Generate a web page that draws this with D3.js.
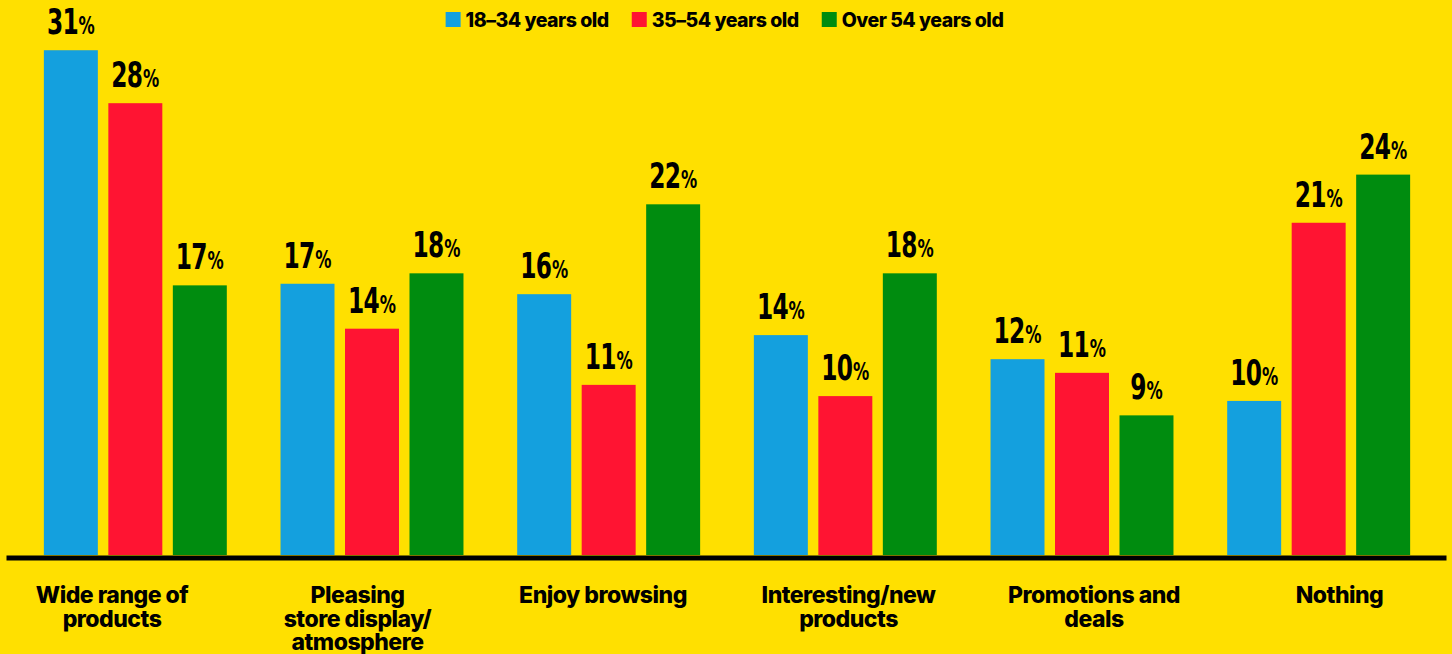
<!DOCTYPE html>
<html>
<head>
<meta charset="utf-8">
<script src="https://cdn.jsdelivr.net/npm/d3@7"></script>
<style>
  html, body { margin: 0; padding: 0; background: #FFE000; }
  svg { display: block; }
</style>
</head>
<body>
<svg id="chart" width="1452" height="654"></svg>
<script>
// ---- data ----
const categories = [
  "Wide range of products",
  "Pleasing store display/ atmosphere",
  "Enjoy browsing",
  "Interesting/new products",
  "Promotions and deals",
  "Nothing"
];
const categoryLines = [
  ["Wide range of", "products"],
  ["Pleasing", "store display/", "atmosphere"],
  ["Enjoy browsing"],
  ["Interesting/new", "products"],
  ["Promotions and", "deals"],
  ["Nothing"]
];
const seriesNames = ["18\u201334 years old", "35\u201354 years old", "Over 54 years old"];
const seriesColors = ["#14A0DE", "#FF1432", "#008C0F"];
// values (%); labels show the rounded figure
const age18to34 = [31.45, 16.9, 16.25, 13.7, 12.2, 9.6];
const age35to54 = [28.15, 14.1, 10.6, 9.9, 11.35, 20.7];
const age55plus = [16.8, 17.55, 21.85, 17.55, 8.7, 23.7];
const seriesValues = [age18to34, age35to54, age55plus];

// ---- layout ----
const W = 1452, H = 654;
const baseY = 555;
const svg = d3.select("#chart");
svg.append("rect").attr("width", W).attr("height", H).attr("fill", "#FFE000");

const x0 = d3.scaleBand().domain(categories).range([17, 1437])
  .paddingInner(0.227).paddingOuter(0.1135);
const x1 = d3.scaleBand().domain(d3.range(seriesNames.length))
  .range([0, x0.bandwidth()]).paddingInner(0.163);
const y = d3.scaleLinear().domain([0, 32]).range([baseY, baseY - 32 * 16.05]);
const xLabel = d3.scalePoint().domain(categories).range([112, 1339.5]);

const rows = [];
categories.forEach((c, i) => {
  seriesValues.forEach((vals, s) => rows.push({ c, s, v: vals[i] }));
});

// bars
svg.append("g").selectAll("rect").data(rows).join("rect")
  .attr("x", d => x0(d.c) + x1(d.s))
  .attr("y", d => y(d.v))
  .attr("width", x1.bandwidth())
  .attr("height", d => y(0) - y(d.v))
  .attr("fill", d => seriesColors[d.s]);

// value labels (condensed heavy numerals)
const numFont = "'DejaVu Sans Condensed', 'DejaVu Sans', sans-serif";
const vl = svg.append("g").selectAll("text").data(rows).join("text")
  .attr("transform", d => `translate(${x0(d.c) + x1(d.s) + x1.bandwidth() / 2},${y(d.v) - 16}) scale(0.72,1)`)
  .attr("text-anchor", "middle")
  .attr("font-family", numFont)
  .attr("font-weight", 700)
  .attr("font-stretch", "condensed")
  .attr("fill", "#000");
vl.append("tspan").attr("font-size", 36).attr("letter-spacing", -1).text(d => Math.round(d.v));
vl.append("tspan").attr("font-size", 25).attr("dx", 1).text("%");

// baseline axis
const axis = d3.axisBottom(d3.scaleLinear().range([6, 1446])).ticks(0).tickSize(0).tickFormat("");
svg.append("g").attr("transform", `translate(0,${baseY + 2.5})`).call(axis)
  .call(g => g.select(".domain").attr("stroke", "#000").attr("stroke-width", 5));

// category labels
const labFont = "Inter, 'Noto Sans', sans-serif";
const cl = svg.append("g").selectAll("text").data(categories).join("text")
  .attr("x", d => xLabel(d))
  .attr("y", 603)
  .attr("text-anchor", "middle")
  .attr("font-family", labFont)
  .attr("font-weight", 800)
  .attr("font-size", 23)
  .attr("letter-spacing", -0.5)
  .attr("fill", "#000");
cl.each(function(d, i) {
  const t = d3.select(this);
  categoryLines[i].forEach((ln, k) => {
    t.append("tspan").attr("x", xLabel(d)).attr("dy", k === 0 ? 0 : 23.5).text(ln);
  });
});

// legend
const lg = svg.append("g");
const items = lg.selectAll("g").data(seriesNames).join("g");
items.append("rect").attr("y", 12).attr("width", 15).attr("height", 15)
  .attr("fill", (d, i) => seriesColors[i]);
items.append("text").attr("x", 20).attr("y", 27)
  .attr("font-family", labFont).attr("font-weight", 800).attr("font-size", 19.5)
  .attr("letter-spacing", -0.5)
  .attr("fill", "#000").text(d => d);
let widths = [];
items.each(function() { widths.push(this.getBBox().width); });
const gap = 23;
const total = d3.sum(widths) + gap * (widths.length - 1);
let cx = 724.5 - total / 2;
items.attr("transform", (d, i) => {
  const tx = cx; cx += widths[i] + gap; return `translate(${tx},0)`;
});
</script>
</body>
</html>
